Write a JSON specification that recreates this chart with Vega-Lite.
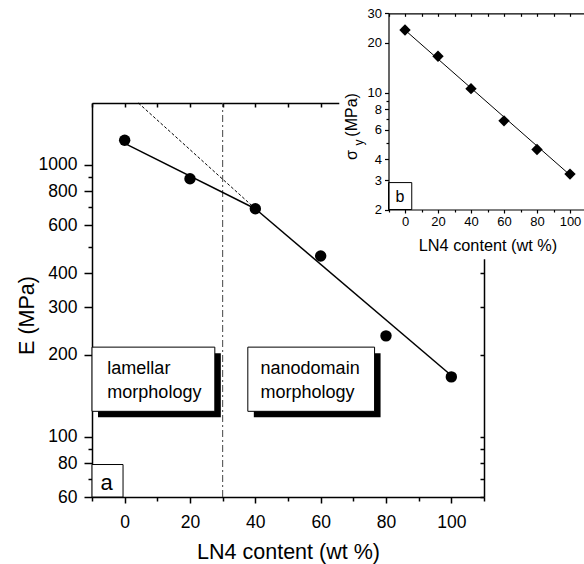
{
  "$schema": "https://vega.github.io/schema/vega-lite/v6.json",
  "width": 392,
  "height": 394,
  "autosize": {"type": "none"},
  "padding": {"left": 92, "top": 103, "right": 100, "bottom": 67},
  "background": "white",
  "config": {
    "view": {"stroke": null},
    "font": "Liberation Sans",
    "axis": {
      "domainColor": "black", "tickColor": "black", "labelColor": "black", "titleColor": "black",
      "labelFont": "Liberation Sans", "titleFont": "Liberation Sans", "titleFontWeight": "normal",
      "grid": false, "labelOverlap": false, "labelFlush": false, "labelBound": false
    }
  },
  "datasets": {
    "main": [
      {"x": 0, "E": 1233}, {"x": 20, "E": 890}, {"x": 40, "E": 690},
      {"x": 60, "E": 462}, {"x": 80, "E": 235}, {"x": 100, "E": 166}
    ],
    "fits": [
      {"seg": "a", "x": 0, "E": 1200}, {"seg": "a", "x": 40, "E": 690},
      {"seg": "b", "x": 40, "E": 690}, {"seg": "b", "x": 100, "E": 168}
    ],
    "dash": [{"x": 4.2, "E": 1690}, {"x": 40, "E": 690}],
    "phase": [{"x": 30, "E": 60, "E2": 1690}],
    "boxes": [
      {"x": -10, "x2": 27.6, "E": 124, "E2": 213.6},
      {"x": 37.7, "x2": 76.5, "E": 124, "E2": 213.6}
    ],
    "boxtext": [
      {"x": -5.3, "E": 170.3, "t": "lamellar"},
      {"x": -5.3, "E": 138.3, "t": "morphology"},
      {"x": 41.6, "E": 170.3, "t": "nanodomain"},
      {"x": 41.6, "E": 138.3, "t": "morphology"}
    ],
    "panelA": [{"x": -10, "x2": -0.5, "E": 60, "E2": 79}],
    "labelA": [{"x": -5.5, "E": 63.4, "t": "a"}],
    "cover": [{"x": 65.7, "x2": 112, "E": 450, "E2": 1900}],
    "inset": [
      {"x": 0, "s": 23.8}, {"x": 20, "s": 16.6}, {"x": 40, "s": 10.6},
      {"x": 60, "s": 6.8}, {"x": 80, "s": 4.58}, {"x": 100, "s": 3.26}
    ],
    "insetfit": [{"x": 0, "s": 23.8}, {"x": 100, "s": 3.22}],
    "panelB": [{"x": -10, "x2": 4.1, "s": 2, "s2": 2.9}],
    "labelB": [{"x": -3, "s": 2.22, "t": "b"}],
    "sub": [{"x": -27.9, "s": 5.05, "t": "y"}]
  },
  "resolve": {
    "scale": {"x": "independent", "y": "independent"},
    "axis": {"x": "independent", "y": "independent"}
  },
  "layer": [
    {
      "encoding": {
        "x": {
          "field": "x", "type": "quantitative",
          "scale": {"domain": [-10, 110], "nice": false, "zero": false},
          "axis": {
            "orient": "bottom",
            "values": [-10, 0, 10, 20, 30, 40, 50, 60, 70, 80, 90, 100, 110],
            "format": "d",
            "labelExpr": "datum.value >= 0 && datum.value <= 100 && datum.value % 20 == 0 ? datum.label : ''",
            "tickSize": {"condition": {"test": "datum.value >= 0 && datum.value <= 100 && datum.value % 20 == 0", "value": 6}, "value": 4},
            "tickWidth": 1.5, "domainWidth": 1.5,
            "labelFontSize": 17.5, "labelPadding": 10,
            "title": "LN4 content (wt %)", "titleFontSize": 21.5,
            "titleY": 44, "titleBaseline": "top", "zindex": 0
          }
        },
        "y": {
          "field": "E", "type": "quantitative",
          "scale": {"type": "log", "domain": [60, 1690], "nice": false},
          "axis": {
            "orient": "left",
            "values": [60, 70, 80, 90, 100, 200, 300, 400, 500, 600, 700, 800, 900, 1000],
            "format": "d",
            "labelExpr": "indexof([60,80,100,200,300,400,600,800,1000], datum.value) >= 0 ? datum.label : ''",
            "tickSize": {"condition": {"test": "indexof([60,80,100,200,300,400,600,800,1000], datum.value) >= 0", "value": 8}, "value": 4},
            "tickWidth": 1.5, "domainWidth": 1.5,
            "labelFontSize": 17.5, "labelPadding": 7,
            "title": "E (MPa)", "titleFontSize": 21.5, "titleAngle": 270,
            "titleX": -65, "titleY": 212, "titleBaseline": "middle", "titleAlign": "center",
            "zindex": 0
          }
        }
      },
      "layer": [
        {
          "data": {"name": "phase"},
          "mark": {"type": "rule", "stroke": "#444444", "strokeWidth": 1, "strokeDash": [7, 3, 2, 3]},
          "encoding": {"y2": {"field": "E2"}}
        },
        {
          "data": {"name": "dash"},
          "mark": {"type": "line", "color": "black", "strokeWidth": 1, "strokeDash": [3, 2]}
        },
        {
          "data": {"name": "fits"},
          "mark": {"type": "line", "color": "black", "strokeWidth": 1.5},
          "encoding": {"detail": {"field": "seg"}}
        },
        {
          "data": {"name": "main"},
          "mark": {"type": "point", "shape": "circle", "filled": true, "size": 130, "color": "black", "opacity": 1}
        },
        {
          "data": {"name": "boxes"},
          "mark": {"type": "rect", "fill": "black", "xOffset": 6, "x2Offset": 6, "yOffset": 6, "y2Offset": 6},
          "encoding": {"x2": {"field": "x2"}, "y2": {"field": "E2"}}
        },
        {
          "data": {"name": "boxes"},
          "mark": {"type": "rect", "fill": "white", "stroke": "black", "strokeWidth": 1},
          "encoding": {"x2": {"field": "x2"}, "y2": {"field": "E2"}}
        },
        {
          "data": {"name": "boxtext"},
          "mark": {"type": "text", "align": "left", "baseline": "alphabetic", "fontSize": 18, "color": "black"},
          "encoding": {"text": {"field": "t"}}
        },
        {
          "data": {"name": "panelA"},
          "mark": {"type": "rect", "fill": "white", "stroke": "black", "strokeWidth": 1},
          "encoding": {"x2": {"field": "x2"}, "y2": {"field": "E2"}}
        },
        {
          "data": {"name": "labelA"},
          "mark": {"type": "text", "align": "center", "baseline": "alphabetic", "fontSize": 22, "color": "black"},
          "encoding": {"text": {"field": "t"}}
        }
      ]
    },
    {
      "data": {"name": "cover"},
      "mark": {"type": "rect", "fill": "white", "strokeWidth": 0},
      "encoding": {
        "x": {
          "field": "x", "type": "quantitative",
          "scale": {"domain": [-10, 110], "nice": false, "zero": false},
          "axis": {
            "orient": "top",
            "values": [-10, 0, 10, 20, 30, 40, 50, 60, 70, 80, 90, 100, 110],
            "labels": false, "tickSize": -4, "tickWidth": 1.5, "domainWidth": 1.5,
            "title": null, "zindex": 0
          }
        },
        "x2": {"field": "x2"},
        "y": {
          "field": "E", "type": "quantitative",
          "scale": {"type": "log", "domain": [60, 1690], "nice": false},
          "axis": {
            "orient": "right",
            "values": [60, 70, 80, 90, 100, 200, 300, 400, 500, 600, 700, 800, 900, 1000],
            "labels": false, "tickSize": -4, "tickWidth": 1.5, "domainWidth": 1.5,
            "title": null, "zindex": 0
          }
        },
        "y2": {"field": "E2"}
      }
    },
    {
      "encoding": {
        "x": {
          "field": "x", "type": "quantitative",
          "scale": {"domain": [-10, 110], "range": [296.5, 494.5], "nice": false, "zero": false},
          "axis": {
            "orient": "bottom", "offset": -287.5,
            "values": [-10, 0, 10, 20, 30, 40, 50, 60, 70, 80, 90, 100, 110],
            "format": "d",
            "labelExpr": "datum.value >= 0 && datum.value <= 100 && datum.value % 20 == 0 ? datum.label : ''",
            "tickSize": {"condition": {"test": "datum.value >= 0 && datum.value <= 100 && datum.value % 20 == 0", "value": 3.5}, "value": 2.5},
            "tickWidth": 1.2, "domainWidth": 1.2,
            "labelFontSize": 13, "labelPadding": 2,
            "title": "LN4 content (wt %)", "titleFontSize": 16.3,
            "titleY": 27.5, "titleBaseline": "top", "zindex": 1
          }
        },
        "y": {
          "field": "s", "type": "quantitative",
          "scale": {"type": "log", "domain": [2, 30], "range": [106.5, -89.7], "nice": false},
          "axis": {
            "orient": "left", "offset": -296.5,
            "values": [2, 3, 4, 5, 6, 7, 8, 9, 10, 20, 30],
            "format": "d",
            "labelExpr": "indexof([2,3,4,6,8,10,20,30], datum.value) >= 0 ? datum.label : ''",
            "tickSize": {"condition": {"test": "indexof([2,3,4,6,8,10,20,30], datum.value) >= 0", "value": 4}, "value": 2.5},
            "tickWidth": 1.2, "domainWidth": 1.2,
            "labelFontSize": 13, "labelPadding": 3,
            "title": "σ\u00a0\u00a0\u00a0(MPa)", "titleFontSize": 16, "titleAngle": 270,
            "titleX": -37, "titleY": 23, "titleBaseline": "middle", "titleAlign": "center",
            "zindex": 1
          }
        }
      },
      "layer": [
        {
          "data": {"name": "insetfit"},
          "mark": {"type": "line", "color": "black", "strokeWidth": 1}
        },
        {
          "data": {"name": "inset"},
          "mark": {"type": "point", "shape": "diamond", "filled": true, "size": 130, "color": "black", "opacity": 1}
        },
        {
          "data": {"name": "panelB"},
          "mark": {"type": "rect", "fill": "white", "stroke": "black", "strokeWidth": 1},
          "encoding": {"x2": {"field": "x2"}, "y2": {"field": "s2"}}
        },
        {
          "data": {"name": "labelB"},
          "mark": {"type": "text", "align": "center", "baseline": "alphabetic", "fontSize": 16, "color": "black"},
          "encoding": {"text": {"field": "t"}}
        },
        {
          "data": {"name": "sub"},
          "mark": {"type": "text", "align": "center", "baseline": "middle", "fontSize": 12, "angle": 270, "color": "black"},
          "encoding": {"text": {"field": "t"}}
        }
      ]
    },
    {
      "data": {"name": "inset"},
      "mark": {"type": "point", "opacity": 0},
      "encoding": {
        "x": {
          "field": "x", "type": "quantitative",
          "scale": {"domain": [-10, 110], "range": [296.5, 494.5], "nice": false, "zero": false},
          "axis": {
            "orient": "top", "offset": 89.7,
            "values": [-10, 0, 10, 20, 30, 40, 50, 60, 70, 80, 90, 100, 110],
            "labels": false, "tickSize": -3, "tickWidth": 1.2, "domainWidth": 1.2,
            "title": null, "zindex": 1
          }
        }
      }
    }
  ]
}
